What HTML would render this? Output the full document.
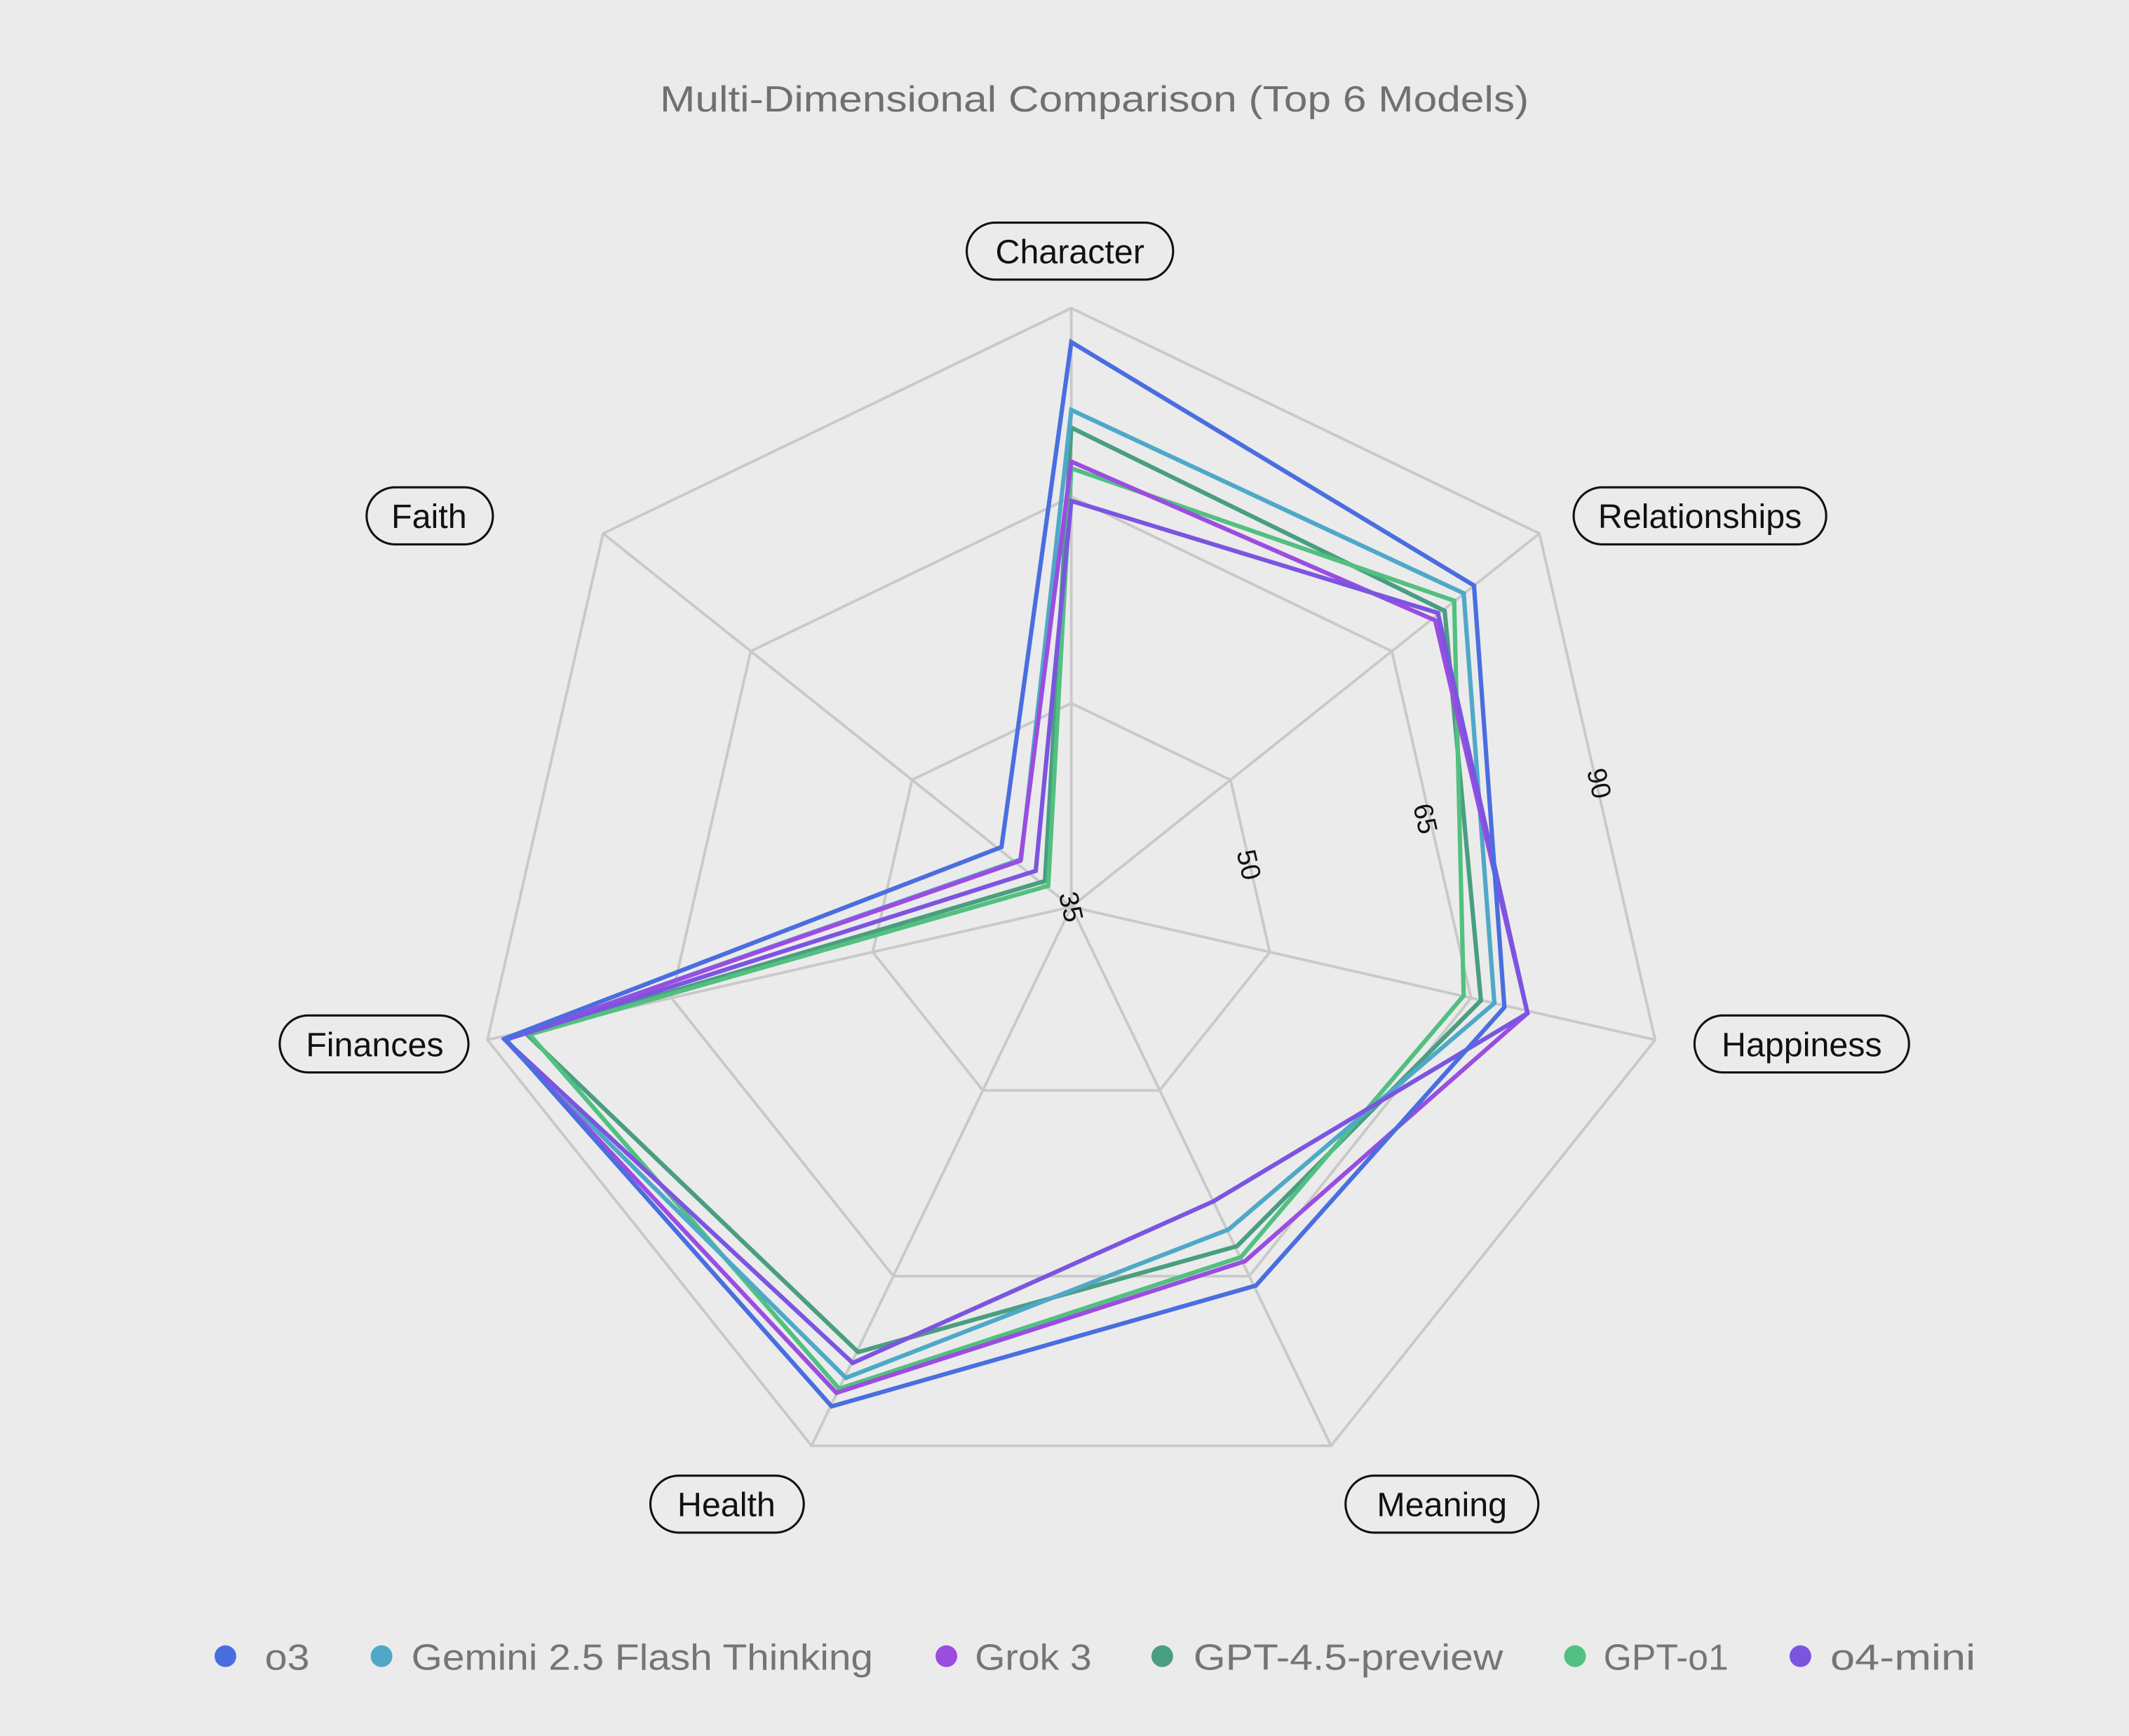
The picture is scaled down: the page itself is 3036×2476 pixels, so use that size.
<!DOCTYPE html>
<html><head><meta charset="utf-8"><style>
html,body{margin:0;padding:0;background:#ebebeb;}
svg{display:block;}
text{font-family:"Liberation Sans",sans-serif;}
</style></head><body>
<svg width="3036" height="2476" viewBox="0 0 1568 1278.8" xmlns="http://www.w3.org/2000/svg">
<rect width="1568" height="1279" fill="#ebebeb"/>
<text x="486" y="82" font-size="27" fill="#707070" textLength="640" lengthAdjust="spacingAndGlyphs">Multi-Dimensional Comparison (Top 6 Models)</text>
<g stroke="#c9c9c9" stroke-width="2" fill="none">
<polygon points="789,227 1133.8,393 1219,766 980.3,1065 597.7,1065 359,766 444.2,393"/>
<polygon points="789,366 1025.1,479.7 1083.4,735.2 920,940.1 658,940.1 494.6,735.2 552.9,479.7"/>
<polygon points="789,518 906.3,574.5 935.2,701.4 854.1,803.2 723.9,803.2 642.8,701.4 671.7,574.5"/>
<line x1="789" y1="668" x2="789" y2="227"/><line x1="789" y1="668" x2="1133.8" y2="393"/>
<line x1="789" y1="668" x2="1219" y2="766"/><line x1="789" y1="668" x2="980.3" y2="1065"/>
<line x1="789" y1="668" x2="597.7" y2="1065"/><line x1="789" y1="668" x2="359" y2="766"/>
<line x1="789" y1="668" x2="444.2" y2="393"/>
</g>
<g font-size="20" fill="#111" text-anchor="middle">
<text transform="translate(789,668) rotate(77)" y="7">35</text>
<text transform="translate(920,637) rotate(77)" y="7">50</text>
<text transform="translate(1050,603) rotate(77)" y="7">65</text>
<text transform="translate(1178,577) rotate(77)" y="7">90</text>
</g>
<g fill="none" stroke-width="3.2" stroke-linejoin="miter">
<polygon stroke="#4a9e80" points="789,315 1064,450 1090.7,737 911,918 632,996 388,762 769.6,649"/>
<polygon stroke="#52c080" points="789,345 1071,442.5 1078,733.5 914,926 618,1023 390,762 772,652.5"/>
<polygon stroke="#4fa8c8" points="789,302 1078,437 1100.6,739 905,905.6 623,1015 372,766 752,633"/>
<polygon stroke="#9b4de0" points="789,340 1057,457 1125,746.4 917,929 616,1026 372,766 751.5,634"/>
<polygon stroke="#7b55e0" points="789,369 1059,451.5 1125,746.4 893.6,885 628,1004 372,766 762.8,641.5"/>
<polygon stroke="#4a6ee0" points="789,252 1085.6,431.3 1108,742 925,947 612.5,1036 372,765 737.6,624"/>
</g>
<g fill="#ebebeb" stroke="#111" stroke-width="1.6">
<rect x="712" y="164" width="152" height="42" rx="21"/>
<rect x="1159" y="359" width="186" height="42" rx="21"/>
<rect x="1248" y="748" width="158" height="42" rx="21"/>
<rect x="991" y="1087" width="142" height="42" rx="21"/>
<rect x="479" y="1087" width="113" height="42" rx="21"/>
<rect x="206" y="748" width="139" height="42" rx="21"/>
<rect x="270" y="359" width="93" height="42" rx="21"/>
</g>
<g font-size="25" fill="#111" text-anchor="middle">
<text x="788" y="194">Character</text>
<text x="1252" y="389">Relationships</text>
<text x="1327" y="778">Happiness</text>
<text x="1062" y="1117">Meaning</text>
<text x="535" y="1117">Health</text>
<text x="276" y="778">Finances</text>
<text x="316" y="389">Faith</text>
</g>
<g font-size="27" fill="#757575">
<circle cx="166" cy="1220" r="8" fill="#4a6ee0"/><text x="195" y="1230" textLength="33" lengthAdjust="spacingAndGlyphs">o3</text>
<circle cx="281" cy="1220" r="8" fill="#4fa8c8"/><text x="303" y="1230" textLength="340" lengthAdjust="spacingAndGlyphs">Gemini 2.5 Flash Thinking</text>
<circle cx="697" cy="1220" r="8" fill="#9b4de0"/><text x="718" y="1230" textLength="86" lengthAdjust="spacingAndGlyphs">Grok 3</text>
<circle cx="856" cy="1220" r="8" fill="#4a9e80"/><text x="879" y="1230" textLength="228" lengthAdjust="spacingAndGlyphs">GPT-4.5-preview</text>
<circle cx="1160" cy="1220" r="8" fill="#52c080"/><text x="1181" y="1230" textLength="92" lengthAdjust="spacingAndGlyphs">GPT-o1</text>
<circle cx="1326" cy="1220" r="8" fill="#7b55e0"/><text x="1348" y="1230" textLength="107" lengthAdjust="spacingAndGlyphs">o4-mini</text>
</g>
</svg>
</body></html>
